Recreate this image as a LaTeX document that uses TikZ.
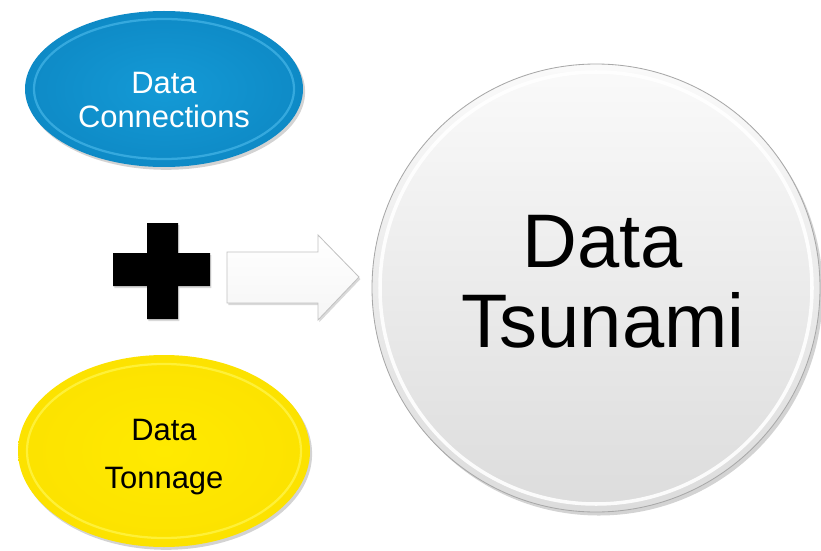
\documentclass[tikz,border=0pt]{standalone}
\usepackage{fontspec}
\setmainfont{Liberation Sans}
\usepackage{tikz}
\usetikzlibrary{calc, shapes.geometric, shadows}

\definecolor{connblue}{RGB}{20,154,214}
\definecolor{connedge}{RGB}{14,138,198}
\definecolor{connrim}{RGB}{70,182,232}
\definecolor{tonyellow}{RGB}{255,234,0}
\definecolor{tonedge}{RGB}{252,226,0}
\definecolor{tonrim}{RGB}{255,246,80}
\definecolor{tsutop}{RGB}{250,250,250}
\definecolor{tsumid}{RGB}{238,238,238}
\definecolor{tsubottom}{RGB}{220,220,220}
\definecolor{tsuedge}{RGB}{168,168,168}

\tikzset{
	blob/.style={ellipse, inner sep=0pt, draw=none,
		drop shadow={opacity=0.35, shadow xshift=1.5pt, shadow yshift=-2pt}},
	rim/.style={line width=1.6pt, opacity=0.7},
	label22/.style={align=center, font=\fontsize{22}{24}\selectfont}
}

\begin{document}
\begin{tikzpicture}[x=0.025cm, y=-0.025cm]
		\def\px{0.025cm}
		\useasboundingbox (0,0) rectangle (821,551);

		\node[blob, minimum width=278*\px, minimum height=156*\px,
			inner color=connblue, outer color=connedge] (conn) at (164,89) {};
		\draw[rim, connrim] (conn.center) ellipse [x radius=130, y radius=70];
		\node[label22, text=white] (conntext) at (164,100) {Data\\Connections};

		\node[blob, minimum width=292*\px, minimum height=192*\px,
			inner color=tonyellow, outer color=tonedge] (ton) at (164,451) {};
		\draw[rim, tonrim] (ton.center) ellipse [x radius=137, y radius=87];
		\node[label22, font=\fontsize{22}{34}\selectfont] (tontext) at (164,457) {Data\\Tonnage};

		\fill[black, drop shadow={opacity=0.3, shadow xshift=1pt, shadow yshift=-1.5pt}]
			(147,223) -- (178,223) -- (178,253) -- (210,253) -- (210,286) -- (178,286)
			-- (178,319) -- (147,319) -- (147,286) -- (113,286) -- (113,253) -- (147,253) -- cycle;

		\path[draw=tsuedge!70, line width=0.6pt, top color=white, bottom color=tsutop!85!tsubottom,
			drop shadow={opacity=0.3, shadow xshift=1pt, shadow yshift=-1.5pt}]
			(227,252) -- (318,252) -- (318,235) -- (359,277) -- (318,320) -- (318,303) -- (227,303) -- cycle;

		\node[circle, inner sep=0pt, minimum size=448*\px, draw=tsuedge, line width=0.6pt,
			top color=tsutop, middle color=tsumid, bottom color=tsubottom,
			drop shadow={opacity=0.35, shadow xshift=2pt, shadow yshift=-2.5pt}] (tsunami) at (596,288) {};
		\draw[line width=2.5pt, white, opacity=0.9] (tsunami.center) circle [radius=216];
		\node[align=center, font=\fontsize{54}{57}\selectfont] (tsutext) at (603,282) {Data\\Tsunami};
	\end{tikzpicture}
\end{document}
